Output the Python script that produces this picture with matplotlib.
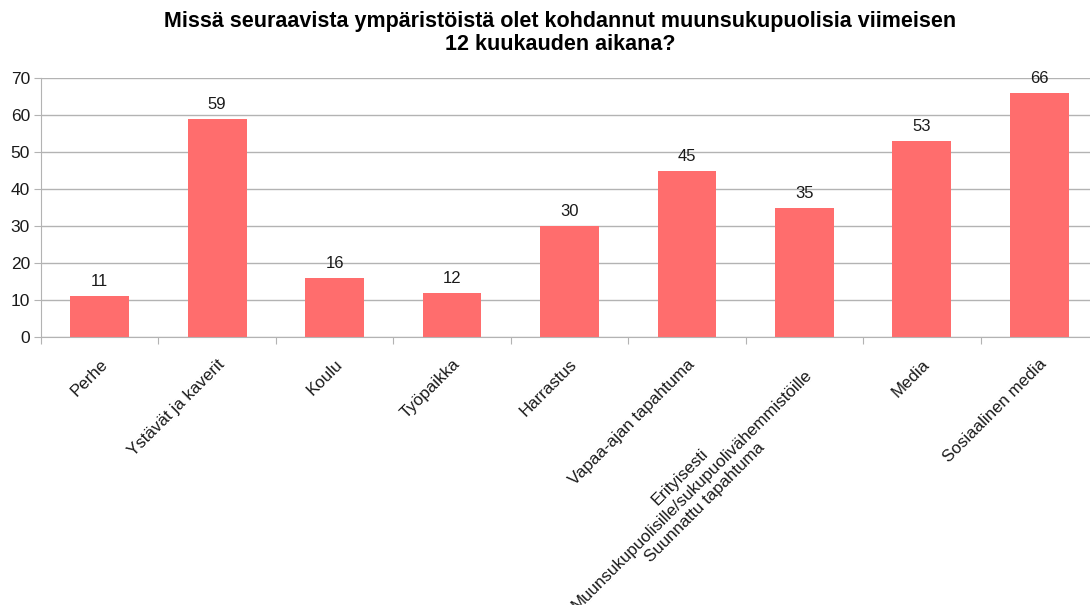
import numpy as np
import matplotlib.pyplot as plt
import matplotlib.transforms as mtransforms

categories = ['Perhe', 'Ystävät ja kaverit', 'Koulu', 'Työpaikka', 'Harrastus',
              'Vapaa-ajan tapahtuma',
              'Erityisesti\nMuunsukupuolisille/sukupuolivähemmistöille\nSuunnattu tapahtuma',
              'Media', 'Sosiaalinen media']
values = [11, 59, 16, 12, 30, 45, 35, 53, 66]

plt.rcParams['font.family'] = ['Liberation Sans', 'DejaVu Sans']

fig = plt.figure(figsize=(10.9, 6.05), dpi=100)
# plot area runs a little past the right edge, as in the original
ax = fig.add_axes([41 / 1090, 0.443, 1057 / 1090, 0.428])

x = np.arange(len(categories))
ax.bar(x, values, width=0.5, color='#ff6d6d', zorder=2)
for xi, v in zip(x, values):
    ax.annotate(str(v), (xi, v), xytext=(0, 5), textcoords='offset points',
                ha='center', va='bottom', fontsize=12, color='#1a1a1a')

ax.set_xlim(-0.5, len(categories) - 0.5)
ax.set_ylim(0, 70)
ax.set_yticks(range(0, 71, 10))
ax.yaxis.grid(True, color='#b3b3b3', linewidth=1)
ax.set_axisbelow(True)

for s in ['top', 'right']:
    ax.spines[s].set_visible(False)
ax.spines['left'].set_color('#b3b3b3')
ax.spines['bottom'].set_color('#b3b3b3')

ax.tick_params(axis='y', length=5, color='#b3b3b3', labelsize=12.5, labelcolor='#1a1a1a', pad=3)
# category ticks sit between bars, labels at the bar centres
ax.set_xticks(np.arange(-0.5, len(categories) + 0.5, 1))
ax.set_xticklabels([])
ax.tick_params(axis='x', which='major', length=5, color='#b3b3b3')
ax.set_xticks(x, minor=True)
labels = ax.set_xticklabels(categories, minor=True, rotation=45, ha='right', va='top',
                            rotation_mode='anchor', multialignment='center',
                            fontsize=12.2, color='#1a1a1a')
ax.tick_params(axis='x', which='minor', length=0, pad=14)

# the three-line label sits a bit further left in the original
lab = labels[6]
lab.set_transform(lab.get_transform() +
                  mtransforms.ScaledTranslation(-12 / 100, 2 / 100, fig.dpi_scale_trans))

fig.text(560 / 1090, 1 - 33 / 605,
         'Missä seuraavista ympäristöistä olet kohdannut muunsukupuolisia viimeisen\n12 kuukauden aikana?',
         ha='center', va='center', fontsize=15.5, fontweight='bold', linespacing=1.15)

fig.savefig('out.png', dpi=100)
